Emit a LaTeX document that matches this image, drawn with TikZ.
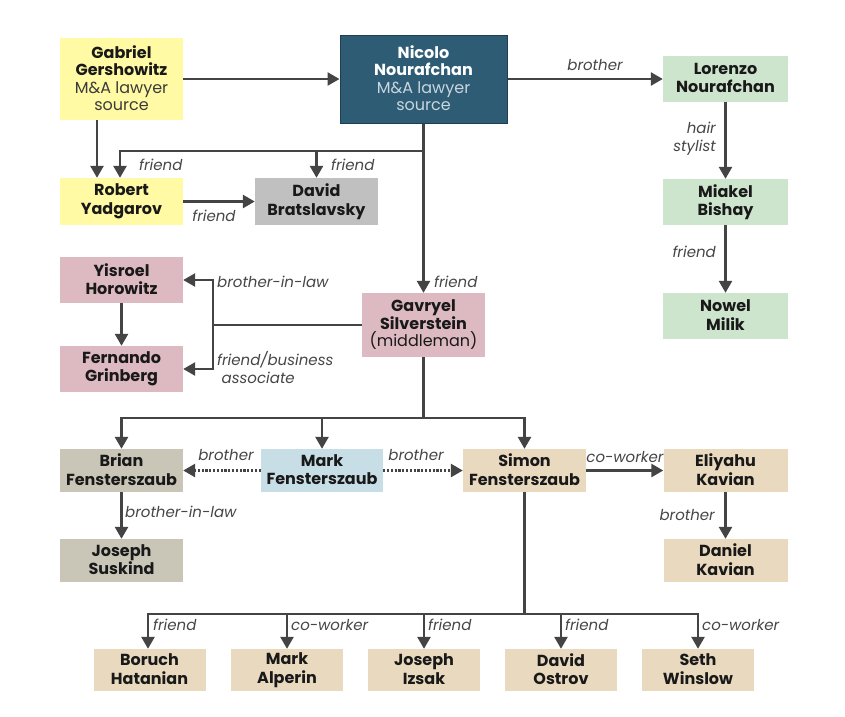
\documentclass[tikz,border=0pt]{standalone}
\usepackage{fontspec}
\setmainfont{Poppins}
\usetikzlibrary{arrows.meta}
\definecolor{yel}{RGB}{255,250,163}
\definecolor{teal}{RGB}{47,92,117}
\definecolor{tealdk}{RGB}{30,62,82}
\definecolor{grn}{RGB}{206,229,205}
\definecolor{gry}{RGB}{192,192,192}
\definecolor{pnk}{RGB}{221,185,193}
\definecolor{tau}{RGB}{201,198,183}
\definecolor{lbl}{RGB}{200,222,230}
\definecolor{bge}{RGB}{233,217,191}
\definecolor{namec}{RGB}{25,25,25}
\definecolor{labc}{RGB}{70,70,70}
\definecolor{linec}{RGB}{68,68,68}
\definecolor{subc}{RGB}{200,214,222}
\tikzset{
  box/.style={rectangle, inner sep=0pt, align=center, text=namec,
    font=\fontsize{16}{18.5}\selectfont\bfseries,
    execute at begin node={\rule{0pt}{13pt}}, execute at end node={\rule[-2pt]{0pt}{2pt}}},
  std/.style={box, minimum width=123pt, minimum height=46pt},
  bot/.style={box, fill=bge, minimum width=112pt, minimum height=42pt},
  arr/.style={draw=linec, line width=2.6pt, -{Triangle[length=12pt,width=13pt]}},
  ln/.style={draw=linec, line width=2.6pt},
  lab/.style={font=\fontsize{15}{18}\selectfont\itshape, text=labc, inner sep=1pt},
  dots/.style={dash pattern=on 2.2pt off 1.6pt}
}
\begin{document}
\begin{tikzpicture}[x=1pt,y=-1pt]
\useasboundingbox[fill=white] (0,0) rectangle (845,716);
% nodes
\node[box, fill=yel, minimum width=123pt, minimum height=82pt, font=\fontsize{16}{17.5}\selectfont\bfseries] (gab) at (121.5,79)
  {Gabriel\\Gershowitz\\{\mdseries\color{namec!85} M\&A lawyer}\\{\mdseries\color{namec!85} source}};
\node[box, fill=teal, draw=tealdk, line width=1pt, text=white, minimum width=167pt, minimum height=88pt, font=\fontsize{16}{17.5}\selectfont\bfseries] (nic) at (423.5,79)
  {Nicolo\\Nourafchan\\{\mdseries\color{subc} M\&A lawyer}\\{\mdseries\color{subc} source}};
\node[std, fill=grn, minimum width=125pt] (lor) at (725.5,79) {Lorenzo\\Nourafchan};
\node[std, fill=grn, minimum width=125pt] (mia) at (725.5,202) {Miakel\\Bishay};
\node[std, fill=grn, minimum width=125pt] (now) at (725.5,316) {Nowel\\Milik};
\node[std, fill=yel, minimum height=47pt] (rob) at (121.5,201.5) {Robert\\Yadgarov};
\node[std, fill=gry, minimum height=47pt] (dav) at (316.5,201.5) {David\\Bratslavsky};
\node[std, fill=pnk] (yis) at (121.5,280) {Yisroel\\Horowitz};
\node[std, fill=pnk] (fer) at (121.5,369) {Fernando\\Grinberg};
\node[box, fill=pnk, minimum width=123pt, minimum height=64pt, font=\fontsize{16}{17.5}\selectfont\bfseries] (gav) at (423.5,325)
  {Gavryel\\Silverstein\\{\mdseries (middleman)}};
\node[std, fill=tau, minimum height=43pt] (bri) at (121.5,470.5) {Brian\\Fensterszaub};
\node[std, fill=lbl, minimum height=43pt, minimum width=122pt] (mrk) at (322,470.5) {Mark\\Fensterszaub};
\node[std, fill=bge, minimum height=43pt] (sim) at (524.5,470.5) {Simon\\Fensterszaub};
\node[std, fill=bge, minimum height=43pt, minimum width=124pt] (eli) at (725.5,470.5) {Eliyahu\\Kavian};
\node[std, fill=bge, minimum height=43pt, minimum width=124pt] (dan) at (725.5,560.5) {Daniel\\Kavian};
\node[std, fill=tau, minimum height=43pt] (jos) at (121.5,560.5) {Joseph\\Suskind};
\node[bot] (b1) at (149.5,670) {Boruch\\Hatanian};
\node[bot] (b2) at (287,670) {Mark\\Alperin};
\node[bot] (b3) at (424,670) {Joseph\\Izsak};
\node[bot] (b4) at (561,670) {David\\Ostrov};
\node[bot] (b5) at (698,670) {Seth\\Winslow};
% junction coordinates
\coordinate (j1) at (423.5,151);
\coordinate (brk) at (213,325);
\coordinate (j2) at (423.5,418);
\coordinate (j3) at (524.5,614);
% connectors
\draw[arr] (gab.east) -- (nic.west);
\draw[arr] (nic.east) -- (lor.west);
\draw[arr] ([xshift=-24.5pt]gab.south) -- ([xshift=-24.5pt]rob.north);
\draw[arr] (nic.south) -- (gav.north);
\draw[arr] (j1) -| ([xshift=-1.5pt]rob.north);
\draw[arr] (j1) -| (dav.north);
\draw[arr] (rob.east) -- (dav.west);
\draw[arr] (lor.south) -- (mia.north);
\draw[arr] (mia.south) -- (now.north);
\draw[ln] (gav.west) -- (brk);
\draw[arr] (brk) |- (yis.east);
\draw[arr] (brk) |- (fer.east);
\draw[arr] (yis.south) -- (fer.north);
\draw[ln] (gav.south) -- (j2);
\draw[arr] (j2) -| (bri.north);
\draw[arr] (j2) -| (mrk.north);
\draw[arr] (j2) -| (sim.north);
\draw[arr, dots] (mrk.west) -- (bri.east);
\draw[arr, dots] (mrk.east) -- (sim.west);
\draw[arr] (sim.east) -- (eli.west);
\draw[arr] (eli.south) -- (dan.north);
\draw[arr] (bri.south) -- (jos.north);
\draw[ln] (sim.south) -- (j3);
\draw[arr] (j3) -| ([xshift=-1.5pt]b1.north);
\draw[arr] (j3) -| (b2.north);
\draw[arr] (j3) -| (b3.north);
\draw[arr] (j3) -| (b4.north);
\draw[arr] (j3) -| (b5.north);
% labels
\node[lab, anchor=west] (l1) at (138,165) {friend};
\node[lab, anchor=west] (l2) at (330,165) {friend};
\node[lab] (l3) at (214,216) {friend};
\node[lab] (l4) at (595,65) {brother};
\node[lab, anchor=east, align=right] (l5) at (717,139) {hair\\stylist};
\node[lab, anchor=east] (l6) at (717,252) {friend};
\node[lab, anchor=west] (l7) at (433,282) {friend};
\node[lab, anchor=west] (l8) at (216,282) {brother-in-law};
\node[lab, anchor=west, align=left] (l9) at (216,367) {friend/business\\\ associate};
\node[lab] (l10) at (226,455) {brother};
\node[lab] (l11) at (416,455) {brother};
\node[lab, anchor=west] (l12) at (124,512) {brother-in-law};
\node[lab] (l13) at (625,457) {co-worker};
\node[lab, anchor=east] (l14) at (716,515) {brother};
\node[lab, anchor=west] (l15) at (152,625) {friend};
\node[lab, anchor=west] (l16) at (290,625) {co-worker};
\node[lab, anchor=west] (l17) at (427,625) {friend};
\node[lab, anchor=west] (l18) at (564,625) {friend};
\node[lab, anchor=west] (l19) at (701,625) {co-worker};
\end{tikzpicture}
\end{document}
